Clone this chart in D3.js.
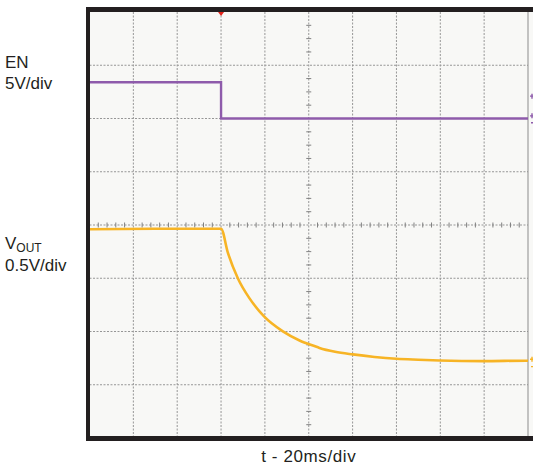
<!DOCTYPE html>
<html>
<head>
<meta charset="utf-8">
<script src="https://cdn.jsdelivr.net/npm/d3@7"></script>
<style>
    body { margin: 0; background: #ffffff; }
    svg text { font-family: "Liberation Sans", Arial, sans-serif; fill: #231f20; }
</style>
</head>
<body>
<div id="scope"></div>
<script>
// time axis, ms (20ms/div, trigger at 0)
var timeDomain = [-60, 140];
// vertical, divisions from centre
var divDomain = [-4, 4];

// EN channel, volts (5V/div)
var enTime = [-60, 0, 0, 140];
var enVolts = [3.4, 3.4, 0, 0];

// VOUT channel, volts (0.5V/div)
var voutTime = [-60, -30, 0, 3.1, 7.7, 13.0, 19.5, 28.2, 35.8, 42.6, 44.9, 52, 60.1, 70, 79.9, 90, 99.7, 119.4, 139.2, 140];
var voutVolts = [1.255, 1.26, 1.26, 1.035, 0.793, 0.606, 0.439, 0.296, 0.211, 0.158, 0.141, 0.105, 0.080, 0.056, 0.039, 0.030, 0.023, 0.017, 0.021, 0.02];

var svgWidth = 533;
var svgHeight = 466;

var plot = { left: 89.5, right: 528, top: 12, bottom: 438 };

var svg = d3
    .select("#scope")
    .append("svg")
    .attr("width", svgWidth)
    .attr("height", svgHeight);

var x = d3.scaleLinear()
    .domain(timeDomain)
    .range([plot.left, plot.right]);

var y = d3.scaleLinear()
    .domain(divDomain)
    .range([plot.bottom, plot.top]);

// channel settings (div position of ground, volts per div)
var enScale = { ground: 2, perDiv: 5 };
var voutScale = { ground: -2.59, perDiv: 0.5 };

// screen background
svg.append("rect")
    .attr("x", plot.left)
    .attr("y", plot.top)
    .attr("width", svgWidth - plot.left)
    .attr("height", plot.bottom - plot.top)
    .attr("fill", "#f8f8f6");

// grid
var gridX = d3.range(-40, 140, 20);
var gridY = d3.range(-3, 4, 1);

svg.append("g")
    .selectAll("line")
    .data(gridX)
    .enter()
    .append("line")
    .attr("x1", d => x(d))
    .attr("x2", d => x(d))
    .attr("y1", plot.top)
    .attr("y2", plot.bottom)
    .attr("stroke", "#969696")
    .attr("stroke-width", 1)
    .attr("stroke-dasharray", "2,1.5");

svg.append("g")
    .selectAll("line")
    .data(gridY)
    .enter()
    .append("line")
    .attr("x1", plot.left)
    .attr("x2", plot.right)
    .attr("y1", d => y(d))
    .attr("y2", d => y(d))
    .attr("stroke", "#969696")
    .attr("stroke-width", 1)
    .attr("stroke-dasharray", "2,1.5");

// minor ticks on the centre lines
var minorX = d3.range(-60, 140.01, 4).filter(d => d % 20 !== 0);
var minorY = d3.range(-4, 4.01, 0.25).filter(d => d % 1 !== 0);

svg.append("g")
    .selectAll("line")
    .data(minorX)
    .enter()
    .append("line")
    .attr("x1", d => x(d))
    .attr("x2", d => x(d))
    .attr("y1", y(0) - 2.5)
    .attr("y2", y(0) + 2.5)
    .attr("stroke", "#808080")
    .attr("stroke-width", 1);

svg.append("g")
    .selectAll("line")
    .data(minorY)
    .enter()
    .append("line")
    .attr("x1", x(40) - 2.5)
    .attr("x2", x(40) + 2.5)
    .attr("y1", d => y(d))
    .attr("y2", d => y(d))
    .attr("stroke", "#808080")
    .attr("stroke-width", 1);

// right edge of the graticule
svg.append("line")
    .attr("x1", plot.right)
    .attr("x2", plot.right)
    .attr("y1", plot.top)
    .attr("y2", plot.bottom)
    .attr("stroke", "#8c8c8c")
    .attr("stroke-width", 1);

// traces
var enLine = d3.line()
    .x(d => x(d[0]))
    .y(d => y(enScale.ground + d[1] / enScale.perDiv));

var voutLine = d3.line()
    .curve(d3.curveMonotoneX)
    .x(d => x(d[0]))
    .y(d => y(voutScale.ground + d[1] / voutScale.perDiv));

svg.append("path")
    .datum(d3.zip(enTime, enVolts))
    .attr("d", enLine)
    .attr("fill", "none")
    .attr("stroke", "#8e5bab")
    .attr("stroke-width", 2.4);

svg.append("path")
    .datum(d3.zip(voutTime, voutVolts))
    .attr("d", voutLine)
    .attr("fill", "none")
    .attr("stroke", "#f7b425")
    .attr("stroke-width", 2.6);

// channel markers at the right edge (cut off by the page edge)
var markers = [
    { v: 2.42, color: "#8e5bab", big: true },
    { v: 2.05, color: "#8e5bab", big: true },
    { v: 1.92, color: "#8e5bab", big: false },
    { v: -2.52, color: "#f7b425", big: true },
    { v: -2.66, color: "#f7b425", big: false }
];

svg.append("g")
    .selectAll("path")
    .data(markers)
    .enter()
    .append("path")
    .attr("d", d => d.big
        ? `M${plot.right + 2},${y(d.v)} h5 M${plot.right + 4},${y(d.v) - 2.5} v5`
        : `M${plot.right + 3},${y(d.v)} h2`)
    .attr("stroke", d => d.color)
    .attr("stroke-width", 1.4)
    .attr("fill", "none");

// frame
svg.append("rect")
    .attr("x", 86)
    .attr("y", 7)
    .attr("width", svgWidth - 86)
    .attr("height", 5)
    .attr("fill", "#231f20");

svg.append("rect")
    .attr("x", 86)
    .attr("y", 7)
    .attr("width", 4)
    .attr("height", 434)
    .attr("fill", "#231f20");

svg.append("rect")
    .attr("x", 86)
    .attr("y", 436)
    .attr("width", svgWidth - 86)
    .attr("height", 5)
    .attr("fill", "#231f20");

// trigger marker
svg.append("path")
    .attr("d", `M${x(0) - 3},${plot.top} h6 l-3,4 z`)
    .attr("fill", "#e2231a");

// labels
var labelSize = "17px";

svg.append("text")
    .attr("x", 5)
    .attr("y", 68)
    .style("font-size", labelSize)
    .text("EN");

svg.append("text")
    .attr("x", 5)
    .attr("y", 89)
    .style("font-size", labelSize)
    .text("5V/div");

var vout = svg.append("text")
    .attr("x", 5)
    .attr("y", 249)
    .style("font-size", labelSize);

vout.append("tspan").text("V");
vout.append("tspan")
    .attr("dy", 3)
    .style("font-size", "12px")
    .text("OUT");

svg.append("text")
    .attr("x", 5)
    .attr("y", 271)
    .style("font-size", labelSize)
    .text("0.5V/div");

svg.append("text")
    .attr("x", x(40))
    .attr("y", 462)
    .attr("text-anchor", "middle")
    .style("font-size", labelSize)
    .style("letter-spacing", "0.6px")
    .text("t - 20ms/div");
</script>
</body>
</html>
